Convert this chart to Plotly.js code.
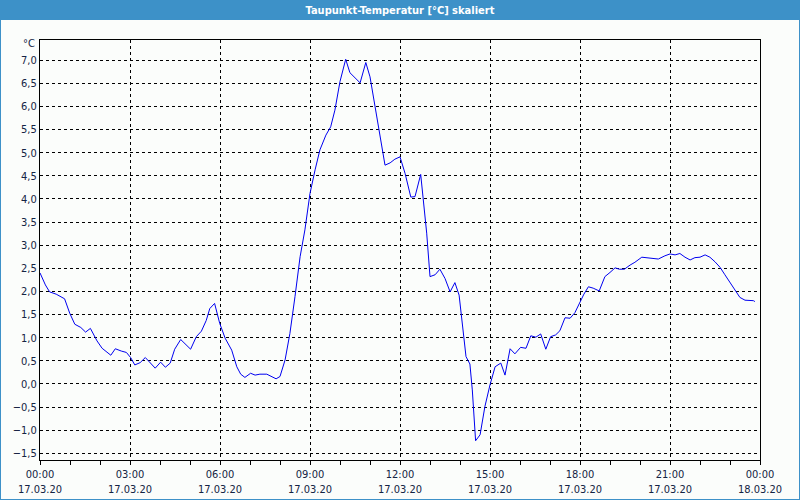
<!DOCTYPE html>
<html>
<head>
<meta charset="utf-8">
<script src="https://cdn.plot.ly/plotly-3.0.1.min.js"></script>
<style>
  html, body { margin: 0; padding: 0; }
  #chart {
    width: 800px; height: 500px;
    background: linear-gradient(#3d91c8 0px, #3d91c8 20px, #fbfdfb 20px);
    box-shadow: inset 0 0 0 1px #3d91c8;
  }
</style>
</head>
<body>
<div id="chart"></div>
<script>
// Time of day in hours on 17.03.20
const hours = [0.0,0.18,0.32,0.54,0.82,0.99,1.16,1.36,1.52,1.68,1.90,2.07,2.36,2.51,2.71,2.88,3.02,3.16,3.34,3.51,3.84,4.02,4.18,4.34,4.49,4.69,5.02,5.21,5.38,5.54,5.66,5.82,5.99,6.17,6.39,6.56,6.69,6.83,7.02,7.17,7.33,7.56,7.87,8.0,8.17,8.33,8.5,8.67,8.83,9.0,9.17,9.33,9.53,9.69,9.83,9.91,10.0,10.19,10.33,10.67,10.86,11.0,11.13,11.28,11.39,11.5,11.67,11.83,12.0,12.17,12.36,12.5,12.69,12.78,12.89,13.0,13.17,13.33,13.5,13.67,13.83,13.97,14.11,14.2,14.33,14.41,14.52,14.67,14.83,15.0,15.17,15.36,15.5,15.67,15.83,16.02,16.2,16.36,16.53,16.69,16.86,17.02,17.19,17.33,17.5,17.67,17.83,18.0,18.13,18.28,18.44,18.64,18.83,19.0,19.17,19.31,19.48,19.67,19.83,20.06,20.28,20.61,20.83,21.0,21.17,21.33,21.5,21.67,21.83,22.0,22.17,22.33,22.5,22.67,22.83,23.0,23.17,23.33,23.5,23.78,23.83];
const dewpoint = [2.40,2.14,1.99,1.94,1.84,1.53,1.29,1.22,1.12,1.20,0.93,0.77,0.62,0.76,0.71,0.68,0.57,0.41,0.46,0.57,0.34,0.47,0.36,0.45,0.75,0.96,0.75,1.02,1.14,1.37,1.63,1.74,1.31,0.99,0.73,0.37,0.21,0.14,0.23,0.19,0.21,0.21,0.11,0.16,0.52,1.09,1.89,2.75,3.33,4.12,4.63,5.06,5.38,5.56,5.92,6.21,6.54,7.02,6.73,6.51,6.95,6.64,6.14,5.53,5.13,4.73,4.78,4.86,4.91,4.55,4.04,4.05,4.53,3.98,3.26,2.32,2.36,2.48,2.28,1.99,2.19,1.92,1.09,0.59,0.43,-0.13,-1.23,-1.10,-0.49,-0.02,0.37,0.45,0.19,0.76,0.65,0.79,0.77,1.04,1.01,1.08,0.75,1.02,1.06,1.15,1.43,1.42,1.54,1.78,1.94,2.10,2.07,2.01,2.32,2.41,2.51,2.48,2.48,2.57,2.63,2.74,2.72,2.70,2.77,2.81,2.79,2.82,2.74,2.68,2.73,2.74,2.79,2.74,2.64,2.52,2.36,2.20,2.03,1.87,1.81,1.80,1.78];

const xTickVals = [0,3,6,9,12,15,18,21,24];
const xTickText = ['00:00<br>17.03.20','03:00<br>17.03.20','06:00<br>17.03.20','09:00<br>17.03.20','12:00<br>17.03.20','15:00<br>17.03.20','18:00<br>17.03.20','21:00<br>17.03.20','00:00<br>18.03.20'];
const yTickVals = [-1.5,-1.0,-0.5,0.0,0.5,1.0,1.5,2.0,2.5,3.0,3.5,4.0,4.5,5.0,5.5,6.0,6.5,7.0];

const fontFam = 'DejaVu Sans Condensed, DejaVu Sans, sans-serif';
const labelColor = '#142444';

const trace = {
  x: hours, y: dewpoint, type: 'scatter', mode: 'lines',
  line: { color: '#0000f0', width: 1 }, hoverinfo: 'skip'
};

const layout = {
  width: 800, height: 500,
  margin: { l: 40, r: 40, t: 40, b: 40, pad: 0 },
  paper_bgcolor: 'rgba(0,0,0,0)',
  plot_bgcolor: '#fbfdfb',
  separators: ',.',
  showlegend: false,
  title: {
    text: 'Taupunkt-Temperatur [°C] skaliert',
    font: { family: fontFam, size: 11, color: '#ffffff', weight: 'bold' },
    x: 0.5, xanchor: 'center', y: 1 - 10/500, yanchor: 'middle', xref: 'paper', yref: 'container'
  },
  xaxis: {
    range: [0, 24], fixedrange: true,
    tickmode: 'array', tickvals: xTickVals, ticktext: xTickText,
    ticks: 'outside', ticklen: 4, tickcolor: '#000', tickwidth: 1,
    minor: { dtick: 1, tick0: 0, ticks: 'outside', ticklen: 4, tickcolor: '#000', showgrid: false },
    showgrid: true, gridcolor: '#000', gridwidth: 1, griddash: '3px,3px',
    showline: true, linecolor: '#000', linewidth: 1, mirror: true,
    zeroline: false,
    tickfont: { family: fontFam, size: 11, color: labelColor }
  },
  yaxis: {
    range: [-1.646, 7.437], fixedrange: true,
    tickmode: 'array', tickvals: yTickVals, tickformat: '.1f',
    ticks: '', 
    showgrid: true, gridcolor: '#000', gridwidth: 1, griddash: '3px,3px',
    showline: true, linecolor: '#000', linewidth: 1, mirror: true,
    zeroline: false,
    tickfont: { family: fontFam, size: 11, color: labelColor }
  },
  annotations: [{
    text: '°C', xref: 'paper', yref: 'paper',
    x: -3/720, y: (460-44)/420, xanchor: 'right', yanchor: 'middle',
    showarrow: false, font: { family: fontFam, size: 11, color: labelColor }
  }]
};

Plotly.newPlot('chart', [trace], layout, { displayModeBar: false, staticPlot: true });
</script>
</body>
</html>
